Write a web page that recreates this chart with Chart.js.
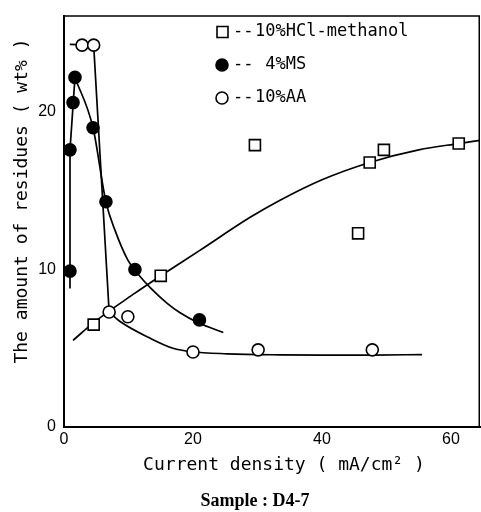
<!DOCTYPE html>
<html>
<head>
<meta charset="utf-8">
<script src="https://cdn.jsdelivr.net/npm/chart.js@4/dist/chart.umd.min.js"></script>
<style>
  html, body { margin: 0; padding: 0; background: #fff; }
</style>
</head>
<body>
<canvas id="residueChart" width="481" height="512"></canvas>
<script>
// measured points (current density, residue wt%)
const hclX = [4.6, 15, 29.6, 45.6, 47.4, 49.6, 61.2];
const hclY = [6.5, 9.6, 17.9, 12.3, 16.8, 17.6, 18.0];
const msX = [0.93, 0.93, 1.4, 1.7, 4.5, 6.5, 11, 21];
const msY = [9.9, 17.6, 20.6, 22.2, 19.0, 14.3, 10.0, 6.8];
const aaX = [2.8, 4.6, 7.0, 9.9, 20, 30.1, 47.8];
const aaY = [24.25, 24.25, 7.3, 7.0, 4.76, 4.9, 4.9];

// the hand drawn trend curves
const hclCurveX = [1.4, 4.5, 11, 15, 21, 28.8, 33.5, 40, 47.4, 55, 61.2, 64.5];
const hclCurveY = [5.5, 6.6, 8.5, 9.6, 11.2, 13.3, 14.4, 15.7, 16.8, 17.6, 18.0, 18.2];
const msRiseX = [0.93, 0.93, 1.7];
const msRiseY = [8.8, 17.6, 22.2];
const msFallX = [1.7, 4.5, 6.5, 7.9, 9.9, 11.5, 13.6, 16, 18, 20.9, 24.7];
const msFallY = [22.2, 19.0, 14.3, 12.5, 10.6, 9.7, 8.75, 7.85, 7.25, 6.6, 6.0];
const aaDropX = [0.9, 4.6, 7.0];
const aaDropY = [24.3, 24.25, 7.3];
const aaTailX = [7.0, 8.7, 13.3, 16.9, 19.8, 25.3, 33.5, 40, 48, 55.5];
const aaTailY = [7.3, 6.7, 5.65, 5.0, 4.78, 4.65, 4.58, 4.56, 4.57, 4.6];

const legendLabels = ["10%HCl-methanol", " 4%MS", "10%AA"];
const xTitle = "Current density ( mA/cm\u00B2 )";
const yTitle = "The amount of residues ( wt% )";
const caption = "Sample : D4-7";

const toPoints = (xs, ys) => xs.map((x, i) => ({ x: x, y: ys[i] }));

const markerStyles = [
  { pointStyle: "rect", pointRadius: 7.8, backgroundColor: "#fff" },
  { pointStyle: "circle", pointRadius: 6, backgroundColor: "#000" },
  { pointStyle: "circle", pointRadius: 6, backgroundColor: "#fff" },
];

const frameAndText = {
  id: "frameAndText",
  afterDraw(chart) {
    const { ctx, chartArea: a } = chart;
    ctx.save();
    ctx.strokeStyle = "#000";
    ctx.lineWidth = 1.5;
    ctx.beginPath();
    ctx.moveTo(a.left, a.top);
    ctx.lineTo(a.right - 0.75, a.top);
    ctx.lineTo(a.right - 0.75, a.bottom);
    ctx.stroke();

    ctx.fillStyle = "#000";
    ctx.textBaseline = "middle";
    ctx.textAlign = "center";
    ctx.font = '18px "DejaVu Sans Mono"';
    ctx.fillText(xTitle, 284, 465);
    ctx.save();
    ctx.translate(22, 201);
    ctx.rotate(-Math.PI / 2);
    ctx.fillText(yTitle, 0, 0);
    ctx.restore();

    ctx.font = 'bold 18px "Liberation Serif"';
    ctx.fillText(caption, 255, 501);

    // legend, top right inside the frame
    const rows = [32, 65, 98];
    ctx.font = '17px "DejaVu Sans Mono"';
    ctx.textAlign = "left";
    legendLabels.forEach((label, i) => {
      const y = rows[i];
      const m = markerStyles[i];
      ctx.lineWidth = 1.6;
      ctx.fillStyle = m.backgroundColor;
      ctx.beginPath();
      if (m.pointStyle === "rect") {
        ctx.rect(217, y - 5.5, 11, 11);
      } else {
        ctx.arc(222, y, 6, 0, Math.PI * 2);
      }
      ctx.fill();
      ctx.stroke();
      ctx.fillStyle = "#000";
      ctx.fillText("--", 233, y);
      ctx.fillText(label, 255, y);
    });
    ctx.restore();
  },
};

const pointSet = (xs, ys, style) => ({
  type: "scatter",
  data: toPoints(xs, ys),
  showLine: false,
  pointStyle: style.pointStyle,
  pointRadius: style.pointRadius,
  pointBackgroundColor: style.backgroundColor,
  pointBorderColor: "#000",
  pointBorderWidth: 1.6,
  order: 0,
});

const curveSet = (xs, ys, mode, tension) => ({
  type: "line",
  data: toPoints(xs, ys),
  borderColor: "#000",
  borderWidth: 1.7,
  pointRadius: 0,
  fill: false,
  cubicInterpolationMode: mode,
  tension: tension,
  order: 1,
});

const tickFont = { family: '"Liberation Sans"', size: 16 };

new Chart(document.getElementById("residueChart").getContext("2d"), {
  type: "scatter",
  data: {
    datasets: [
      pointSet(hclX, hclY, markerStyles[0]),
      pointSet(msX, msY, markerStyles[1]),
      pointSet(aaX, aaY, markerStyles[2]),
      curveSet(hclCurveX, hclCurveY, "monotone", 0.4),
      curveSet(msRiseX, msRiseY, "default", 0),
      curveSet(msFallX, msFallY, "monotone", 0.4),
      curveSet(aaDropX, aaDropY, "default", 0),
      curveSet(aaTailX, aaTailY, "monotone", 0.4),
    ],
  },
  options: {
    responsive: false,
    animation: false,
    layout: { autoPadding: false, padding: { top: 16, right: 1, left: 0, bottom: 0 } },
    plugins: {
      legend: { display: false },
      tooltip: { enabled: false },
    },
    scales: {
      x: {
        type: "linear",
        min: 0,
        max: 64.5,
        afterFit: (scale) => {
          scale.height = 85;
          scale.paddingLeft = 0;
          scale.paddingRight = 0;
        },
        grid: { display: false, drawTicks: false },
        border: { color: "#000", width: 2 },
        ticks: { stepSize: 20, includeBounds: false, padding: 3, color: "#000", font: tickFont, maxRotation: 0 },
      },
      y: {
        type: "linear",
        min: 0,
        max: 26.1,
        afterFit: (scale) => {
          scale.width = 64;
          scale.paddingTop = 0;
          scale.paddingBottom = 0;
        },
        grid: { display: false, drawTicks: false },
        border: { color: "#000", width: 2 },
        ticks: { stepSize: 10, includeBounds: false, padding: 8, color: "#000", font: tickFont },
      },
    },
  },
  plugins: [frameAndText],
});
</script>
</body>
</html>
